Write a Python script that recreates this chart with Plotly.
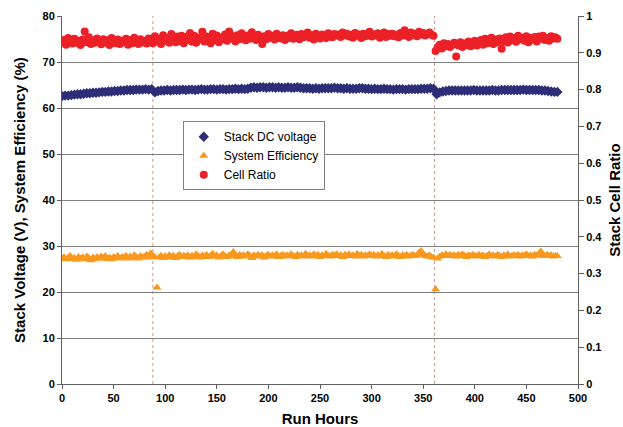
import plotly.graph_objects as go

# Run hours
hours_v = list(range(0, 481, 3))   # voltage samples
hours = list(range(0, 481, 2))     # efficiency / cell ratio samples

stack_dc_voltage = [
    62.6, 62.7, 62.7, 62.8, 62.9, 63.0, 63.0, 63.1, 63.2, 63.2,
    63.3, 63.3, 63.4, 63.5, 63.5, 63.6, 63.6, 63.7, 63.7, 63.8,
    63.8, 63.9, 63.9, 63.9, 64.0, 64.0, 64.0, 64.1, 64.0, 64.1,
    63.4, 63.7, 63.8, 63.8, 63.9, 63.8, 63.9, 63.9, 63.9, 64.0,
    63.9, 64.0, 64.0, 63.9, 64.0, 64.1, 64.0, 64.0, 64.1, 64.1,
    64.0, 64.1, 64.1, 64.0, 64.1, 64.1, 64.2, 64.1, 64.2, 64.1,
    64.2, 64.4, 64.5, 64.4, 64.5, 64.5, 64.4, 64.5, 64.5, 64.4,
    64.5, 64.4, 64.4, 64.5, 64.4, 64.4, 64.5, 64.4, 64.3, 64.3,
    64.3, 64.2, 64.3, 64.2, 64.3, 64.3, 64.3, 64.3, 64.4, 64.3,
    64.3, 64.2, 64.3, 64.2, 64.2, 64.2, 64.3, 64.3, 64.2, 64.2,
    64.1, 64.2, 64.1, 64.1, 64.2, 64.1, 64.1, 64.0, 64.1, 64.1,
    64.1, 64.0, 64.1, 64.1, 64.1, 64.1, 64.2, 64.2, 64.2, 64.3,
    64.2, 63.0, 63.4, 63.6, 63.7, 63.8, 63.8, 63.8, 63.8, 63.8,
    63.8, 63.8, 63.8, 63.9, 63.8, 63.8, 63.8, 63.8, 63.8, 63.9,
    63.8, 63.8, 63.9, 63.9, 63.9, 63.9, 63.9, 63.9, 63.9, 64.0,
    63.9, 63.9, 63.9, 63.9, 63.9, 63.8, 63.8, 63.7, 63.6, 63.5,
    63.5,
]

system_efficiency = [
    27.3, 27.6, 27.1, 27.5, 27.8, 27.2, 27.4, 27.0, 27.6, 27.3,
    27.5, 27.1, 27.7, 27.4, 26.9, 27.5, 27.2, 27.6, 27.3, 27.7,
    27.4, 27.8, 27.2, 27.5, 27.1, 27.6, 27.4, 27.8, 27.3, 27.6,
    27.5, 27.9, 27.3, 27.7, 27.4, 28.0, 27.6, 27.3, 27.8, 27.5,
    27.7, 28.1, 27.5, 28.4, 27.8, 27.6, 21.0, 27.5, 27.9, 27.4,
    27.8, 27.5, 28.0, 27.6, 27.9, 27.4, 27.8, 28.1, 27.6, 27.9,
    27.7, 28.0, 27.5, 27.9, 27.6, 28.2, 27.8, 27.5, 28.0, 27.7,
    28.1, 27.6, 27.9, 28.3, 27.7, 28.0, 27.5, 27.9, 28.2, 27.8,
    27.6, 28.0, 27.8, 28.7, 27.9, 27.6, 28.1, 27.8, 28.0, 27.7,
    28.2, 27.9, 27.4, 28.0, 27.7, 28.1, 27.8, 28.0, 27.5, 27.9,
    28.1, 27.7, 28.0, 27.8, 28.2, 27.6, 27.9, 28.1, 27.7, 28.0,
    27.8, 28.2, 27.9, 27.6, 28.1, 27.8, 28.0, 27.7, 28.3, 27.9,
    28.0, 27.7, 28.2, 27.9, 28.1, 27.6, 28.0, 27.8, 28.3, 27.9,
    27.7, 28.1, 27.9, 28.2, 27.8, 28.0, 27.6, 28.1, 27.9, 28.2,
    27.8, 28.0, 27.7, 28.3, 27.9, 28.1, 27.7, 28.0, 27.8, 28.2,
    27.9, 28.1, 27.7, 28.0, 27.8, 28.3, 27.9, 27.6, 28.1, 27.8,
    28.0, 27.7, 28.2, 27.9, 27.6, 28.0, 27.8, 28.1, 27.7, 27.9,
    28.1, 27.8, 28.0, 28.6, 28.9, 28.2, 27.9, 27.7, 28.0, 27.6,
    27.5, 20.6, 27.3, 27.7, 28.0, 27.8, 28.2, 27.9, 28.1, 27.8,
    28.0, 27.7, 28.1, 27.8, 28.2, 27.9, 27.6, 28.0, 27.8, 28.1,
    27.9, 27.7, 28.1, 27.8, 28.0, 27.6, 27.9, 28.2, 27.8, 28.0,
    27.7, 28.1, 27.9, 27.6, 28.0, 27.8, 28.2, 27.7, 27.9, 28.0,
    27.8, 28.1, 27.7, 28.0, 27.9, 28.2, 27.8, 28.0, 27.7, 28.1,
    27.9, 28.3, 28.8, 28.0, 27.8, 28.1, 27.9, 28.0, 27.7, 27.9,
    27.8,
]

cell_ratio = [
    0.928, 0.935, 0.922, 0.940, 0.930, 0.925, 0.938, 0.927, 0.933, 0.921,
    0.936, 0.958, 0.929, 0.942, 0.924, 0.934, 0.927, 0.939, 0.931, 0.923,
    0.937, 0.928, 0.934, 0.921, 0.940, 0.930, 0.926, 0.936, 0.924, 0.933,
    0.929, 0.938, 0.922, 0.935, 0.926, 0.941, 0.930, 0.924, 0.937, 0.928,
    0.933, 0.925, 0.939, 0.929, 0.926, 0.945, 0.931, 0.938, 0.924, 0.948,
    0.933, 0.940, 0.927, 0.951, 0.936, 0.929, 0.944, 0.932, 0.946, 0.926,
    0.943, 0.935, 0.954, 0.930, 0.946, 0.927, 0.940, 0.936, 0.957, 0.931,
    0.944, 0.938, 0.926, 0.952, 0.934, 0.947, 0.929, 0.941, 0.936, 0.950,
    0.933, 0.958, 0.939, 0.945, 0.931, 0.948, 0.937, 0.953, 0.940, 0.934,
    0.947, 0.938, 0.956, 0.942, 0.935, 0.949, 0.940, 0.924, 0.945, 0.937,
    0.951, 0.941, 0.946, 0.936, 0.952, 0.943, 0.939, 0.948, 0.935, 0.946,
    0.940, 0.953, 0.938, 0.944, 0.949, 0.937, 0.951, 0.942, 0.947, 0.955,
    0.941, 0.948, 0.936, 0.952, 0.944, 0.939, 0.950, 0.945, 0.940, 0.953,
    0.946, 0.942, 0.951, 0.947, 0.950, 0.943, 0.955, 0.948, 0.952, 0.944,
    0.949, 0.941, 0.954, 0.946, 0.950, 0.940, 0.952, 0.945, 0.948, 0.957,
    0.944, 0.950, 0.947, 0.953, 0.941, 0.949, 0.955, 0.943, 0.951, 0.946,
    0.952, 0.945, 0.949, 0.942, 0.954, 0.947, 0.961, 0.950, 0.943, 0.955,
    0.948, 0.952, 0.945, 0.957, 0.950, 0.954, 0.947, 0.951, 0.955, 0.949,
    0.946, 0.905, 0.915, 0.922, 0.912, 0.926, 0.918, 0.924, 0.916, 0.921,
    0.927, 0.890, 0.920, 0.929, 0.916, 0.925, 0.921, 0.931, 0.918, 0.925,
    0.933, 0.920, 0.928, 0.935, 0.922, 0.938, 0.926, 0.930, 0.941, 0.924,
    0.936, 0.929, 0.939, 0.911, 0.931, 0.942, 0.928, 0.944, 0.934, 0.940,
    0.930, 0.946, 0.937, 0.941, 0.933, 0.945, 0.929, 0.940, 0.936, 0.943,
    0.931, 0.944, 0.938, 0.946, 0.935, 0.940, 0.933, 0.945, 0.939, 0.942,
    0.938,
]

event_hours = [88, 361]

FONT = "Liberation Sans, Arial, sans-serif"

fig = go.Figure()
fig.add_trace(go.Scatter(
    x=hours_v, y=stack_dc_voltage, mode="markers", name="Stack DC voltage",
    marker=dict(symbol="diamond", size=8, color="#2E2D78", line=dict(width=0)),
))
fig.add_trace(go.Scatter(
    x=hours, y=system_efficiency, mode="markers", name="System Efficiency",
    marker=dict(symbol="triangle-up", size=8, color="#F8981D", line=dict(width=0)),
))
fig.add_trace(go.Scatter(
    x=hours, y=cell_ratio, mode="markers", name="Cell Ratio", yaxis="y2",
    marker=dict(symbol="circle", size=8, color="#EC2027", line=dict(width=0)),
))

for h in event_hours:
    fig.add_vline(x=h, line=dict(color="#D9957A", width=1, dash="dot"), layer="below")

fig.add_annotation(
    text="<b>Stack Voltage (V), System Efficiency (%)</b>",
    xref="paper", yref="paper", x=-0.0835, y=0.5,
    xanchor="center", yanchor="middle", textangle=-90, showarrow=False,
    font=dict(size=15, family=FONT, color="black"),
)

fig.update_layout(
    width=623, height=427,
    margin=dict(l=62, r=45, t=16, b=43),
    paper_bgcolor="white", plot_bgcolor="white",
    font=dict(family=FONT, color="black"),
    showlegend=True,
    legend=dict(
        x=0.234, y=0.714, xanchor="left", yanchor="top",
        bgcolor="white", bordercolor="#808080", borderwidth=1,
        font=dict(size=12, family=FONT), itemwidth=30,
        tracegroupgap=0,
    ),
    xaxis=dict(
        range=[0, 500], dtick=50, tick0=0, automargin=False,
        showgrid=False, zeroline=False,
        showline=True, linecolor="#606060", linewidth=1,
        ticks="outside", ticklen=4, tickcolor="#606060",
        tickfont=dict(size=11, weight="bold", family=FONT),
        title=dict(text="<b>Run Hours</b>", font=dict(size=15, family=FONT), standoff=11),
    ),
    yaxis=dict(
        range=[0, 80], dtick=10, tick0=0, automargin=False,
        showgrid=True, gridcolor="#808080", gridwidth=1, zeroline=False,
        showline=True, linecolor="#606060", linewidth=1,
        ticks="outside", ticklen=4, tickcolor="#606060",
        tickfont=dict(size=11, weight="bold", family=FONT),
    ),
    yaxis2=dict(
        range=[0, 1], dtick=0.1, tick0=0, overlaying="y", side="right",
        automargin=False,
        showgrid=False, zeroline=False,
        showline=True, linecolor="#606060", linewidth=1,
        ticks="outside", ticklen=5, tickcolor="#606060",
        tickfont=dict(size=11, weight="bold", family=FONT),
        title=dict(text="<b>Stack Cell Ratio</b>", font=dict(size=15, family=FONT), standoff=10),
    ),
)

fig.write_html("out.html", config={"displayModeBar": False},
               post_script="document.body.style.margin='0';")
